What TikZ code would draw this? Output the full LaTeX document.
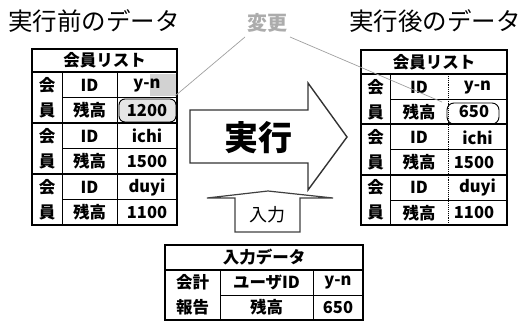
\documentclass[tikz,border=0pt]{standalone}
\usepackage{fontspec}
\newfontfamily\jp{Noto Sans CJK JP}
\begin{document}
\begin{tikzpicture}[x=1pt,y=-1pt,
  thickln/.style={line width=2pt},
  thinln/.style={line width=0.9pt},
  dotln/.style={line width=0.9pt, densely dotted},
  title/.style={font=\jp\fontsize{24.5}{24.5}\selectfont, inner sep=0},
  cell/.style={font=\jp\bfseries\fontsize{16.5}{16.5}\selectfont, inner sep=0},
  callout/.style={gray!75, line width=0.7pt},
  bigarrow/.style={black!80, line width=1.4pt, line join=miter}]
\useasboundingbox (0,0) rectangle (530,321);

% titles
\node[title] (tl) at (94,21) {実行前のデータ};
\node[title] (tr) at (435,21) {実行後のデータ};

% ---------- left table ----------
\fill[gray!35] (150,74) rectangle (176,96);
\draw[thinln, fill=gray!20, rounded corners=6pt] (119,99) rectangle (176,122);
\foreach \g/\id/\val [count=\i] in {0/y-n/1200, 1/ichi/1500, 2/duyi/1100}{
  \pgfmathsetmacro{\t}{72+51*\g}
  \draw[thinln] (62,\t+25.5) -- (177,\t+25.5);
  \node[cell] (Lk\i) at (47,\t+13) {会};
  \node[cell] (Lm\i) at (47,\t+38.5) {員};
  \node[cell] (Li\i) at (89.5,\t+13) {ID};
  \node[cell] (Lz\i) at (89.5,\t+38.5) {残高};
  \node[cell] (Lv\i) at (147,\t+13) {\id};
  \node[cell] (Lb\i) at (147,\t+38.5) {\val};
}
\draw[thinln] (62,72) -- (62,225) (117,72) -- (117,225);
\draw[thickln] (32,123) -- (177,123) (32,174) -- (177,174);
\draw[thickln] (32,72) -- (177,72);
\draw[thickln] (32,49) rectangle (177,225);
\node[cell] (Lt) at (104.5,60.5) {会員リスト};

% ---------- right table ----------
\draw[thinln, rounded corners=7pt] (447,103) rectangle (499,124);
\foreach \g/\id/\val [count=\i] in {0/y-n/650, 1/ichi/1500, 2/duyi/1100}{
  \pgfmathsetmacro{\t}{74+50.33*\g}
  \draw[thinln] (390,\t+25.5) -- (507,\t+25.5);
  \node[cell] (Rk\i) at (375.5,\t+13) {会};
  \node[cell] (Rm\i) at (375.5,\t+38) {員};
  \node[cell] (Ri\i) at (419,\t+13) {ID};
  \node[cell] (Rz\i) at (419,\t+38) {残高};
  \node[cell] (Rv\i) at (477.5,\t+13) {\id};
  \node[cell] (Rb\i) at (474,\t+38) {\val};
}
\draw[thinln] (390,74) -- (390,225);
\draw[dotln] (448,74) -- (448,225);
\draw[thickln] (361,124.3) -- (507,124.3) (361,174.7) -- (507,174.7);
\draw[thickln] (361,74) -- (507,74);
\draw[thickln] (361,50) rectangle (507,225);
\node[cell] (Rt) at (434,62) {会員リスト};

% ---------- change callout ----------
\node[font=\jp\bfseries\fontsize{20}{20}\selectfont, text=gray!65, inner sep=0] (henko) at (267,23) {変更};
\coordinate (hL) at (245,37);
\coordinate (hR) at (290,37);
\coordinate (tL) at (175,96);
\coordinate (tR) at (442,102);
\draw[callout] (hL) -- (tL);
\draw[callout] (hR) -- (tR);

% ---------- big arrow ----------
\draw[bigarrow] (190,110) -- (308,110) -- (308,83) -- (347,137) -- (308,190)
  -- (308,163) -- (190,163) -- cycle;
\node[font=\jp\bfseries\fontsize{34}{34}\selectfont, inner sep=0] (run) at (258,138) {実行};

% ---------- input arrow ----------
\draw[black!75, line width=1.2pt, line join=miter] (207,198) -- (268,191) -- (333,198)
  -- (300,198) -- (300,232) -- (235,232) -- (235,198) -- cycle;
\node[font=\jp\fontsize{18}{18}\selectfont, inner sep=0] (inp) at (267,215) {入力};

% ---------- bottom table ----------
\draw[thinln] (220,270) -- (220,320) (313,270) -- (313,320) (220,295) -- (363,295);
\draw[thickln] (165,270) -- (363,270);
\draw[thickln] (165,245) rectangle (363,320);
\node[cell] (Bt) at (264,257.5) {入力データ};
\node[cell] (Bk) at (192.5,282.5) {会計};
\node[cell] (Bh) at (192.5,307.5) {報告};
\node[cell] (Bu) at (266.5,282.5) {ユーザID};
\node[cell] (Bz) at (266.5,307.5) {残高};
\node[cell] (By) at (338,282.5) {y-n};
\node[cell] (Bv) at (338,307.5) {650};
\end{tikzpicture}
\end{document}
